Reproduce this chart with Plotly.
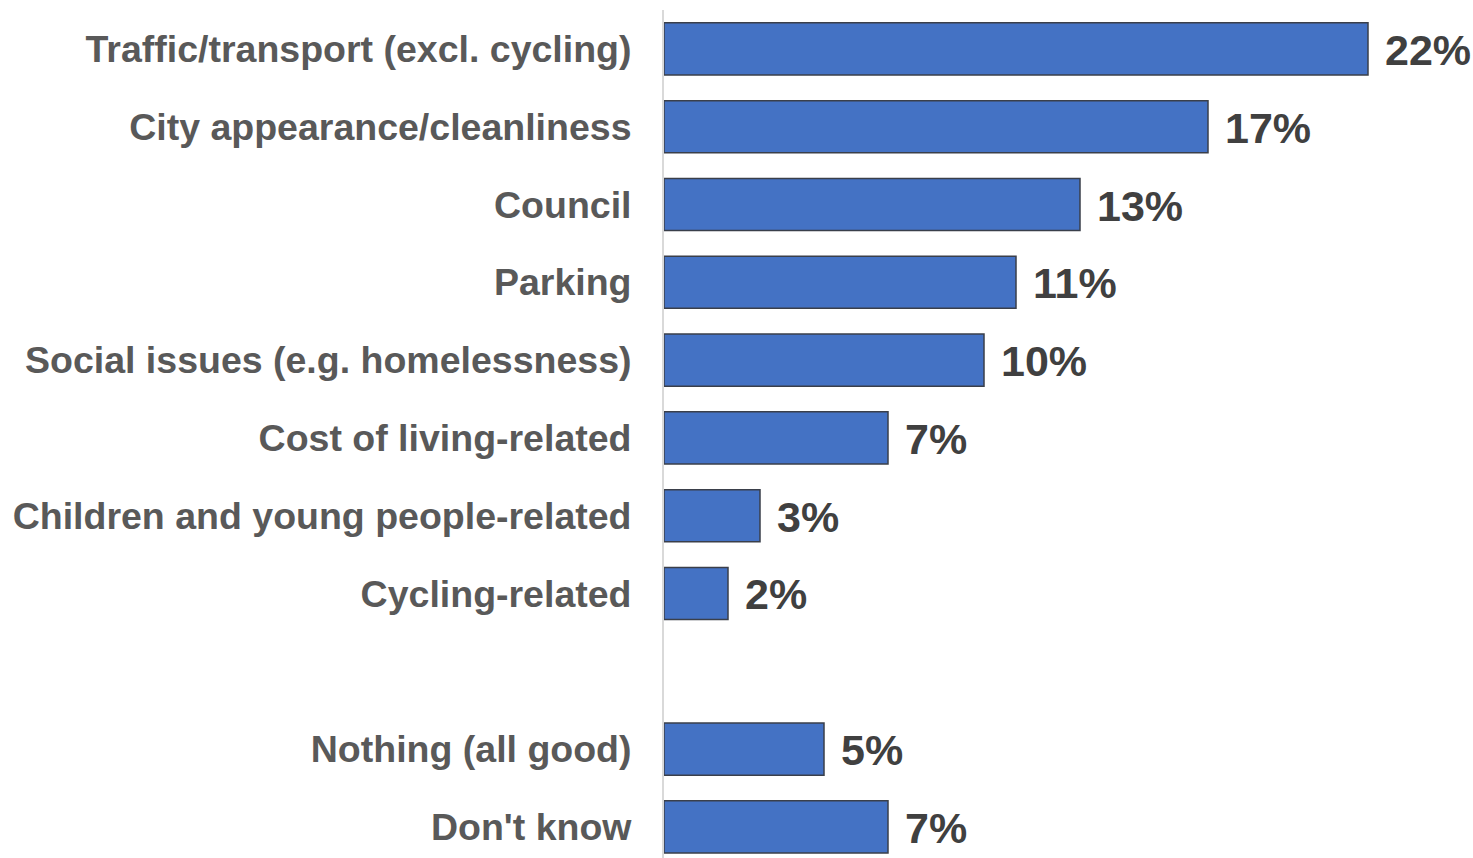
import plotly.graph_objects as go

# Survey responses: what people would most like to see improved
categories = [
    "Traffic/transport (excl. cycling)",
    "City appearance/cleanliness",
    "Council",
    "Parking",
    "Social issues (e.g. homelessness)",
    "Cost of living-related",
    "Children and young people-related",
    "Cycling-related",
    " ",
    "Nothing (all good)",
    "Don't know",
]
values = [22, 17, 13, 11, 10, 7, 3, 2, None, 5, 7]

BAR_BLUE = "#4472C4"
LABEL_GREY = "#595959"
VALUE_GREY = "#404040"
FONT = "Liberation Sans, Arial, sans-serif"

fig = go.Figure(
    go.Bar(
        x=values,
        y=categories,
        orientation="h",
        width=0.67,
        marker=dict(color=BAR_BLUE, line=dict(color="#3a3f4a", width=1.5)),
        hoverinfo="skip",
    )
)

for cat, val in zip(categories, values):
    if val is None:
        continue
    fig.add_annotation(
        x=val,
        y=cat,
        text=f"{val}%",
        xanchor="left",
        yanchor="middle",
        xshift=15,
        yshift=-1,
        showarrow=False,
        font=dict(family=FONT, size=43, color=VALUE_GREY, weight="bold"),
    )

fig.update_layout(
    width=1473,
    height=858,
    margin=dict(l=664, r=9, t=10, b=0),
    paper_bgcolor="white",
    plot_bgcolor="white",
    showlegend=False,
    xaxis=dict(
        range=[0, 25],
        showgrid=False,
        zeroline=False,
        showticklabels=False,
        showline=False,
        fixedrange=True,
    ),
    yaxis=dict(
        categoryorder="array",
        categoryarray=categories,
        range=[10.4, -0.5],
        showgrid=False,
        zeroline=False,
        showline=True,
        linecolor="#d9d9d9",
        linewidth=2,
        ticks="",
        ticklabelstandoff=23,
        tickfont=dict(family=FONT, size=37.5, color=LABEL_GREY, weight="bold"),
        fixedrange=True,
    ),
)

fig.write_html("out.html")
